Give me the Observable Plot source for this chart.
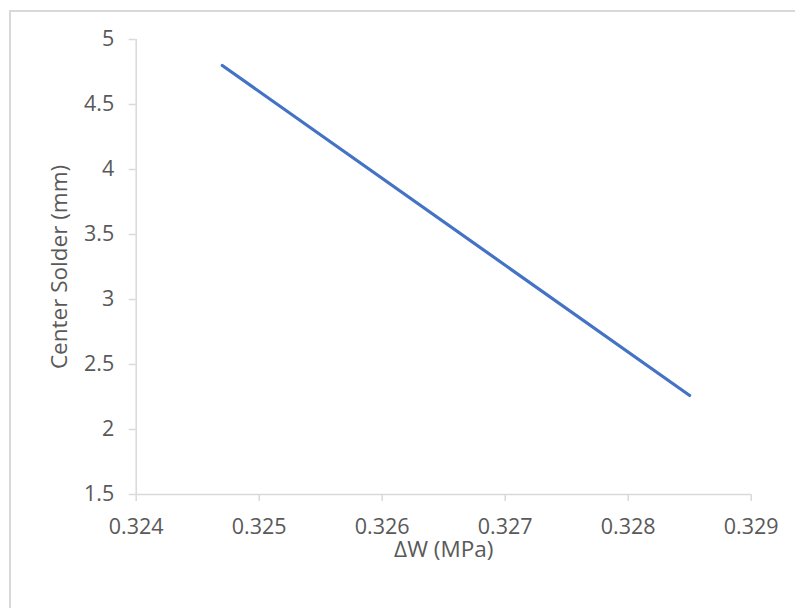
<!DOCTYPE html>
<html>
<head>
<meta charset="utf-8">
<script src="https://cdn.jsdelivr.net/npm/d3@7"></script>
<script src="https://cdn.jsdelivr.net/npm/@observablehq/plot@0.6"></script>
<style>
  html, body { margin: 0; padding: 0; background: #fff; }
  #wrap { position: relative; width: 795px; height: 608px; overflow: hidden; }
  #frame { position: absolute; left: 9px; top: 10px; width: 800px; height: 620px;
           border: 2px solid #d9d9d9; box-sizing: border-box; pointer-events: none; }
  svg { font-family: "Open Sans", sans-serif; }
</style>
</head>
<body>
<div id="wrap"><div id="frame"></div></div>
<script>
const deltaW = [0.3247, 0.3285];
const centerSolder = [4.8, 2.262];
const xTicks = [0.324, 0.325, 0.326, 0.327, 0.328, 0.329];
const yTicks = [1.5, 2, 2.5, 3, 3.5, 4, 4.5, 5];
const xLabel = "ΔW (MPa)";
const yLabel = "Center Solder (mm)";

const data = deltaW.map((x, i) => ({x, y: centerSolder[i]}));

const chart = Plot.plot({
  width: 795,
  height: 608,
  marginLeft: 135.7,
  marginRight: 44.3,
  marginTop: 39,
  marginBottom: 114,
  style: { fontFamily: "'Open Sans', sans-serif", fontSize: "21px", color: "#595959", background: "transparent" },
  x: { domain: [0.324, 0.329], ticks: xTicks, tickFormat: d3.format(".3f") },
  y: { domain: [1.5, 5], ticks: yTicks, tickFormat: d => String(d) },
  marks: [
    Plot.ruleY([1.5], { stroke: "#d9d9d9", strokeWidth: 1.5 }),
    Plot.ruleX([0.324], { stroke: "#d9d9d9", strokeWidth: 1.5 }),
    Plot.axisX({ ticks: xTicks, tickFormat: d3.format(".3f"), tickSize: 7, tickPadding: 17, stroke: "#d9d9d9", strokeWidth: 1.5, fill: "#595959", fontSize: 21.5, label: null }),
    Plot.axisY({ ticks: yTicks, tickFormat: d => String(d), tickSize: 7, tickPadding: 15, stroke: "#d9d9d9", strokeWidth: 1.5, fill: "#595959", fontSize: 21.5, label: null }),
    Plot.text([xLabel], { frameAnchor: "bottom", textAnchor: "middle", lineAnchor: "top", dy: 47, fill: "#595959", fontSize: 22.5, text: d => d }),
    Plot.text([yLabel], { frameAnchor: "left", textAnchor: "middle", lineAnchor: "middle", dx: -76, rotate: -90, fill: "#595959", fontSize: 22.5, text: d => d }),
    Plot.line(data, { x: "x", y: "y", stroke: "#4472C4", strokeWidth: 3.2 })
  ]
});
document.getElementById("wrap").insertBefore(chart, document.getElementById("frame"));
</script>
</body>
</html>
